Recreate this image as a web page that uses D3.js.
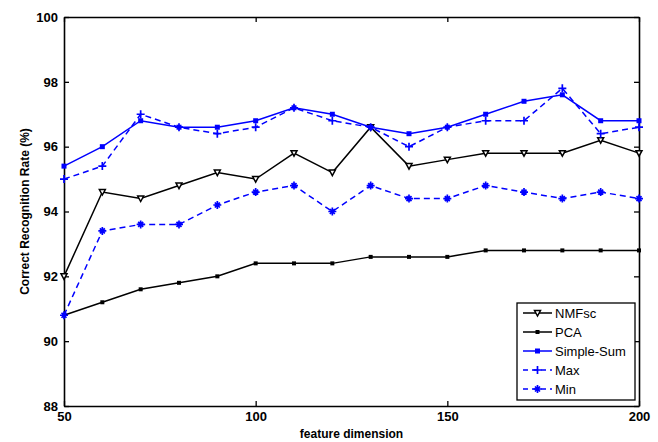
<!DOCTYPE html>
<html lang="en">
<head>
  <meta charset="UTF-8">
  <title>Correct Recognition Rate vs feature dimension</title>
  <script src="https://d3js.org/d3.v7.min.js"></script>
  <style>
    body { margin: 0; background: white; }
    .tickText { font-family: "Liberation Sans", Arial, sans-serif; font-size: 13px; font-weight: bold; fill: black; }
    .axisTitle { font-family: "Liberation Sans", Arial, sans-serif; font-size: 12px; font-weight: bold; fill: black; }
    .legendText { font-family: "Liberation Sans", Arial, sans-serif; font-size: 13px; fill: black; }
  </style>
</head>
<body>
<div id="chart"></div>
<script>
  // data
  const dims = [50, 60, 70, 80, 90, 100, 110, 120, 130, 140, 150, 160, 170, 180, 190, 200];
  const nmfsc = [92.0, 94.6, 94.4, 94.8, 95.2, 95.0, 95.8, 95.2, 96.6, 95.4, 95.6, 95.8, 95.8, 95.8, 96.2, 95.8];
  const pca = [90.8, 91.2, 91.6, 91.8, 92.0, 92.4, 92.4, 92.4, 92.6, 92.6, 92.6, 92.8, 92.8, 92.8, 92.8, 92.8];
  const simpleSum = [95.4, 96.0, 96.8, 96.6, 96.6, 96.8, 97.2, 97.0, 96.6, 96.4, 96.6, 97.0, 97.4, 97.6, 96.8, 96.8];
  const maxVals = [95.0, 95.4, 97.0, 96.6, 96.4, 96.6, 97.2, 96.8, 96.6, 96.0, 96.6, 96.8, 96.8, 97.8, 96.4, 96.6];
  const minVals = [90.8, 93.4, 93.6, 93.6, 94.2, 94.6, 94.8, 94.0, 94.8, 94.4, 94.4, 94.8, 94.6, 94.4, 94.6, 94.4];

  const xTicks = [50, 100, 150, 200];
  const yTicks = [88, 90, 92, 94, 96, 98, 100];
  const seriesNames = ["NMFsc", "PCA", "Simple-Sum", "Max", "Min"];

  const width = 658, height = 442;
  const margin = { top: 17, right: 19, bottom: 36, left: 64 };

  const svg = d3.select("#chart").append("svg")
    .attr("width", width)
    .attr("height", height);

  const x = d3.scaleLinear().domain([50, 200]).range([margin.left, width - margin.right]);
  const y = d3.scaleLinear().domain([88, 100]).range([height - margin.bottom, margin.top]);

  // series styles
  const series = [
    { name: seriesNames[0], values: nmfsc, color: "black", dash: null, marker: "tri" },
    { name: seriesNames[1], values: pca, color: "black", dash: null, marker: "dot" },
    { name: seriesNames[2], values: simpleSum, color: "#0000ff", dash: null, marker: "square" },
    { name: seriesNames[3], values: maxVals, color: "#0000ff", dash: "6,4", marker: "plus" },
    { name: seriesNames[4], values: minVals, color: "#0000ff", dash: "6,4", marker: "star" }
  ];

  // axes box with inward ticks on all sides
  const tickLen = 5;
  svg.append("g")
    .attr("transform", `translate(0,${y(88)})`)
    .call(d3.axisBottom(x).tickValues(xTicks).tickSizeInner(-tickLen).tickSizeOuter(0).tickPadding(6))
    .call(g => g.selectAll("text").attr("class", "tickText"));
  svg.append("g")
    .attr("transform", `translate(0,${y(100)})`)
    .call(d3.axisTop(x).tickValues(xTicks).tickSizeInner(-tickLen).tickSizeOuter(0).tickFormat(""));
  svg.append("g")
    .attr("transform", `translate(${x(50)},0)`)
    .call(d3.axisLeft(y).tickValues(yTicks).tickSizeInner(-tickLen).tickSizeOuter(0).tickPadding(6))
    .call(g => g.selectAll("text").attr("class", "tickText"));
  svg.append("g")
    .attr("transform", `translate(${x(200)},0)`)
    .call(d3.axisRight(y).tickValues(yTicks).tickSizeInner(-tickLen).tickSizeOuter(0).tickFormat(""));

  svg.selectAll(".domain").attr("stroke", "black").attr("stroke-width", 1.6);
  svg.selectAll(".tick line").attr("stroke", "black").attr("stroke-width", 1.3);

  const line = d3.line()
    .x((d, i) => x(dims[i]))
    .y(d => y(d));

  function drawMarker(g, type, cx, cy, color) {
    if (type === "tri") {
      g.append("path")
        .attr("d", `M${cx - 3},${cy - 2.5}L${cx + 3},${cy - 2.5}L${cx},${cy + 3}Z`)
        .attr("fill", "white").attr("stroke", color).attr("stroke-width", 1.5);
    } else if (type === "dot") {
      g.append("rect").attr("x", cx - 2).attr("y", cy - 2).attr("width", 4).attr("height", 4)
        .attr("fill", color);
    } else if (type === "square") {
      g.append("rect").attr("x", cx - 2.5).attr("y", cy - 2.5).attr("width", 5).attr("height", 5)
        .attr("fill", color);
    } else if (type === "plus") {
      g.append("path")
        .attr("d", `M${cx - 4},${cy}L${cx + 4},${cy}M${cx},${cy - 4}L${cx},${cy + 4}`)
        .attr("stroke", color).attr("stroke-width", 1.7);
    } else if (type === "star") {
      g.append("path")
        .attr("d", `M${cx - 4},${cy}L${cx + 4},${cy}M${cx},${cy - 4}L${cx},${cy + 4}M${cx - 2.5},${cy - 2.5}L${cx + 2.5},${cy + 2.5}M${cx - 2.5},${cy + 2.5}L${cx + 2.5},${cy - 2.5}`)
        .attr("stroke", color).attr("stroke-width", 1.7);
    }
  }

  series.forEach(s => {
    const g = svg.append("g");
    g.append("path")
      .datum(s.values)
      .attr("d", line)
      .attr("fill", "none")
      .attr("stroke", s.color)
      .attr("stroke-width", 1.5)
      .attr("stroke-dasharray", s.dash);
    s.values.forEach((v, i) => drawMarker(g, s.marker, x(dims[i]), y(v), s.color));
  });

  // axis titles
  svg.append("text")
    .attr("class", "axisTitle")
    .attr("x", (x(50) + x(200)) / 2)
    .attr("y", height - 4)
    .attr("text-anchor", "middle")
    .text("feature dimension");

  svg.append("text")
    .attr("class", "axisTitle")
    .attr("transform", `translate(29,${(y(88) + y(100)) / 2}) rotate(-90)`)
    .attr("text-anchor", "middle")
    .text("Correct Recognition Rate (%)");

  // legend
  const legend = svg.append("g").attr("transform", "translate(517,303)");
  legend.append("rect")
    .attr("width", 118).attr("height", 97)
    .attr("fill", "white").attr("stroke", "black").attr("stroke-width", 1.3);
  series.forEach((s, i) => {
    const ly = 10 + i * 19;
    legend.append("line")
      .attr("x1", 6).attr("x2", 35).attr("y1", ly).attr("y2", ly)
      .attr("stroke", s.color).attr("stroke-width", 1.5)
      .attr("stroke-dasharray", s.dash ? "5,4" : null);
    drawMarker(legend, s.marker, 20.5, ly, s.color);
    legend.append("text")
      .attr("class", "legendText")
      .attr("x", 38).attr("y", ly)
      .attr("dy", "0.35em")
      .text(s.name);
  });
</script>
</body>
</html>
